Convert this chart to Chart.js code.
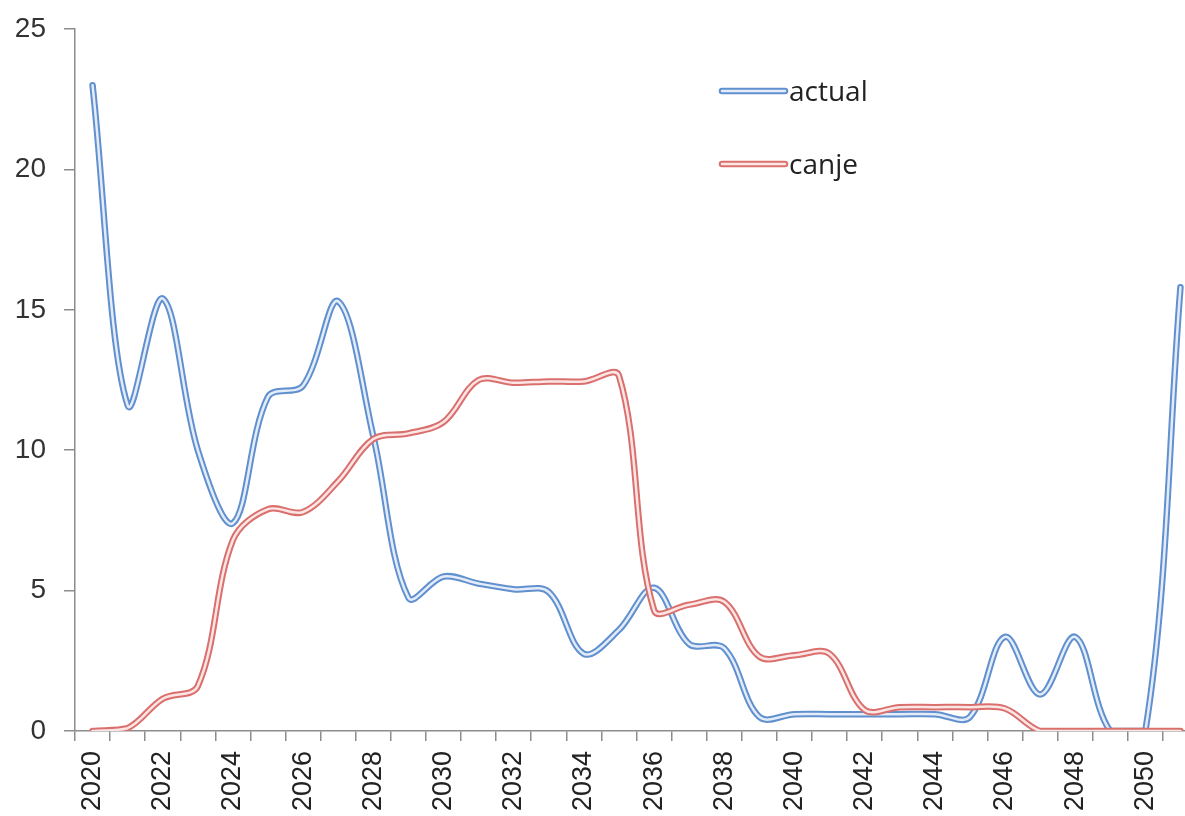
<!DOCTYPE html>
<html>
<head>
<meta charset="utf-8">
<script src="https://cdn.jsdelivr.net/npm/chart.js@4.4.1/dist/chart.umd.min.js"></script>
<style>
  html, body { margin: 0; padding: 0; background: #fff; overflow: hidden; width: 1185px; height: 816px; }
  #wrap { position: absolute; left: 0; top: 0; width: 1212px; height: 845px; }
  canvas { display: block; }
</style>
</head>
<body>
<div id="wrap"><canvas id="c" width="1212" height="845"></canvas></div>
<script>
// Years on the category axis
const years = ['2020','2021','2022','2023','2024','2025','2026','2027','2028','2029',
               '2030','2031','2032','2033','2034','2035','2036','2037','2038','2039',
               '2040','2041','2042','2043','2044','2045','2046','2047','2048','2049',
               '2050','2051'];

// Series values per year
const actual = [23.0, 11.6, 15.4, 10.0, 7.4, 11.9, 12.3, 15.3, 10.5, 4.75,
                5.5, 5.25, 5.05, 4.95, 2.75, 3.6, 5.1, 3.1, 2.95, 0.5,
                0.6, 0.6, 0.6, 0.6, 0.6, 0.5, 3.35, 1.3, 3.35, 0.0,
                0.0, 15.8];
const canje  = [0.0, 0.1, 1.15, 1.6, 6.8, 7.9, 7.8, 8.9, 10.4, 10.6,
                11.0, 12.5, 12.4, 12.45, 12.45, 12.65, 4.3, 4.5, 4.6, 2.65,
                2.7, 2.75, 0.75, 0.85, 0.85, 0.85, 0.8, 0.0, 0.0, 0.0,
                0.0, 0.0];

// Value axis ticks
const yMin = 0, yMax = 25, yStep = 5;

// Double-stroke line colours (outer band, light core)
const blueOuter = '#6190cf', blueInner = '#e3ecf8';
const redOuter  = '#da706d', redInner  = '#fce6e5';

const W = 1212, H = 845;

function lineSet(label, data, color, width, order) {
  return {
    label, data, borderColor: color, backgroundColor: color, borderWidth: width,
    pointRadius: 0, pointHoverRadius: 0, tension: 0.35, fill: false, order,
    borderCapStyle: 'round', borderJoinStyle: 'round'
  };
}

// Legend drawn inside the plot, with the same double-stroke sample as the lines
const insideLegend = {
  id: 'insideLegend',
  afterDraw(chart) {
    const ctx = chart.ctx;
    const items = [
      { text: 'actual', outer: blueOuter, inner: blueInner, y: 91 },
      { text: 'canje',  outer: redOuter,  inner: redInner,  y: 164 }
    ];
    ctx.save();
    ctx.lineCap = 'round';
    items.forEach(it => {
      ctx.beginPath(); ctx.moveTo(722, it.y); ctx.lineTo(785, it.y);
      ctx.strokeStyle = it.outer; ctx.lineWidth = 6.5; ctx.stroke();
      ctx.beginPath(); ctx.moveTo(722, it.y); ctx.lineTo(785, it.y);
      ctx.strokeStyle = it.inner; ctx.lineWidth = 2.5; ctx.stroke();
      ctx.fillStyle = '#222';
      ctx.font = '28px "Open Sans"';
      ctx.textBaseline = 'alphabetic';
      ctx.textAlign = 'left';
      ctx.fillText(it.text, 789, it.y + 10);
    });
    ctx.restore();
  }
};

new Chart(document.getElementById('c'), {
  type: 'line',
  data: {
    labels: years,
    datasets: [
      lineSet('canje',  canje,  redInner,  2.5, 0),
      lineSet('canje',  canje,  redOuter,  6.5, 1),
      lineSet('actual', actual, blueInner, 2.5, 2),
      lineSet('actual', actual, blueOuter, 6.5, 3)
    ]
  },
  options: {
    responsive: false,
    animation: false,
    devicePixelRatio: 1,
    layout: { padding: { top: 29, right: W - 1198, left: 0, bottom: 0 } },
    plugins: { legend: { display: false }, tooltip: { enabled: false } },
    scales: {
      x: {
        type: 'category',
        offset: true,
        grid: { offset: true, drawOnChartArea: false, drawTicks: true, tickLength: 10, color: '#8c8c8c', lineWidth: 1.5 },
        border: { display: true, color: '#8c8c8c', width: 1.5 },
        ticks: {
          autoSkip: false, maxRotation: 90, minRotation: 90, padding: 10,
          color: '#222', font: { family: '"Liberation Sans"', size: 27 },
          callback: (v, i) => (Number(years[i]) % 2 === 0 ? years[i] : '')
        },
        afterFit: s => { s.height = H - 731; s.paddingLeft = 0; s.paddingRight = 0; }
      },
      y: {
        min: yMin, max: yMax,
        grid: { drawOnChartArea: false, drawTicks: true, tickLength: 11, color: '#8c8c8c', lineWidth: 1.5 },
        border: { display: true, color: '#8c8c8c', width: 1.5 },
        ticks: { stepSize: yStep, padding: 18, color: '#333', font: { family: '"Liberation Sans"', size: 28 } },
        afterFit: s => { s.width = 75; s.paddingTop = 0; s.paddingBottom = 0; }
      }
    }
  },
  plugins: [insideLegend]
});
</script>
</body>
</html>
